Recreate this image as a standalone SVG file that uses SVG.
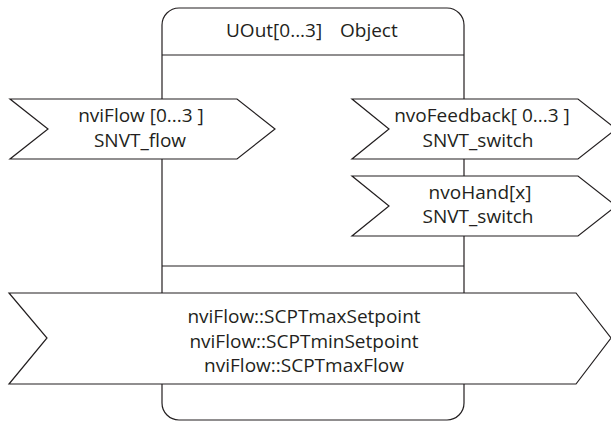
<svg xmlns="http://www.w3.org/2000/svg" width="611" height="421" viewBox="0 0 611 421">
  <style>
    .frame { fill: #ffffff; stroke: #231f20; stroke-width: 1.2; }
    .rule { stroke: #231f20; stroke-width: 1.2; fill: none; }
    .nv { fill: #ffffff; stroke: #231f20; stroke-width: 1.2; stroke-linejoin: miter; }
    .lbl { font-family: "Open Sans", "Liberation Sans", sans-serif; font-size: 19px; fill: #231f20; }
    .mid { text-anchor: middle; }
  </style>

  <!-- functional block body -->
  <g id="object">
    <rect class="frame" x="162" y="8" width="302" height="412" rx="17" ry="17"/>
    <line class="rule" x1="162" y1="55" x2="464" y2="55"/>
    <line class="rule" x1="162" y1="266" x2="464" y2="266"/>
    <text class="lbl" x="226" y="37">UOut[0...3]<tspan x="340">Object</tspan></text>
  </g>

  <!-- input network variable -->
  <g id="nviFlow">
    <polygon class="nv" points="10,99 237,99 275,129 237,159 10,159 48,129"/>
    <text class="lbl mid" x="141" y="122">nviFlow [0...3 ]</text>
    <text class="lbl mid" x="140" y="147">SNVT_flow</text>
  </g>

  <!-- output network variables -->
  <g id="nvoFeedback">
    <polygon class="nv" points="352,99 578,99 616,129 578,159 352,159 389,129"/>
    <text class="lbl mid" x="482" y="122">nvoFeedback[ 0...3 ]</text>
    <text class="lbl mid" x="478" y="147">SNVT_switch</text>
  </g>

  <g id="nvoHand">
    <polygon class="nv" points="352,176 578,176 616,206 578,236 352,236 389,206"/>
    <text class="lbl mid" x="480" y="199">nvoHand[x]</text>
    <text class="lbl mid" x="478" y="223">SNVT_switch</text>
  </g>

  <!-- configuration properties -->
  <g id="config">
    <polygon class="nv" points="9,293 576,293 611,338 576,384 9,384 47,338"/>
    <text class="lbl mid" x="304" y="323">nviFlow::SCPTmaxSetpoint</text>
    <text class="lbl mid" x="304" y="348">nviFlow::SCPTminSetpoint</text>
    <text class="lbl mid" x="304" y="372">nviFlow::SCPTmaxFlow</text>
  </g>
</svg>
